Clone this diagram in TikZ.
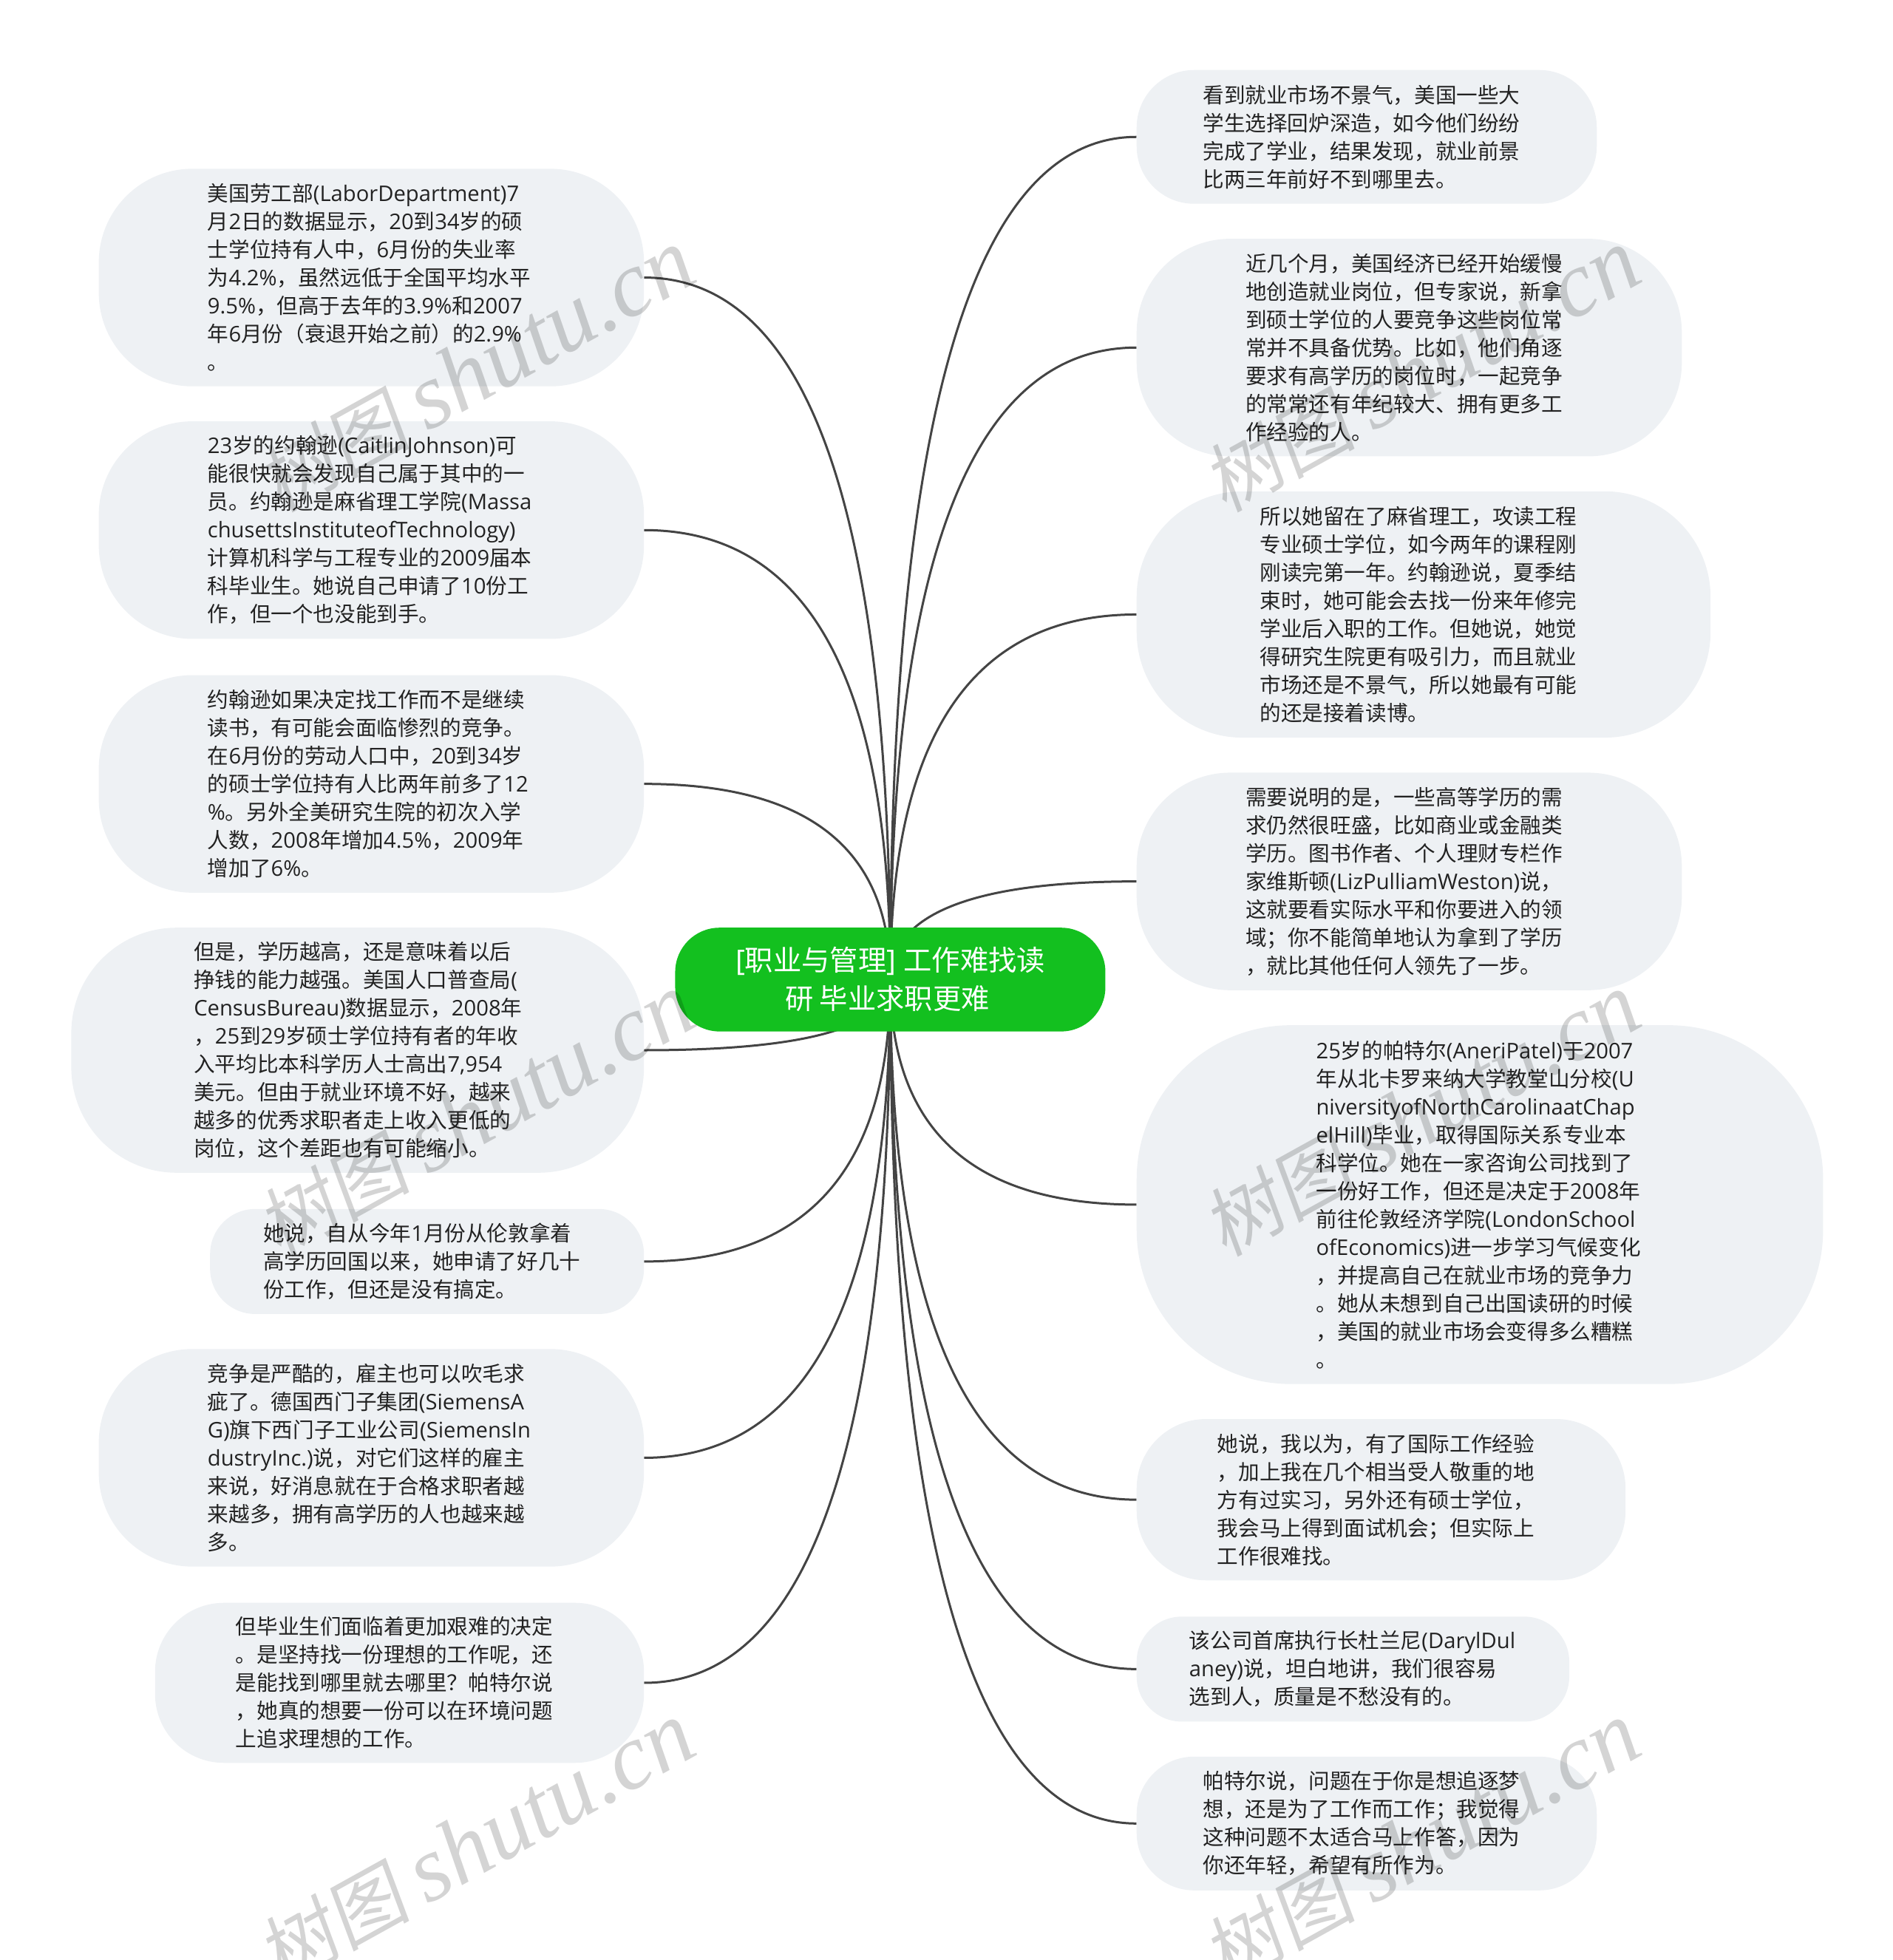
\documentclass[tikz,border=0pt]{standalone}
\usepackage{fontspec}
\usetikzlibrary{calc,backgrounds}
\setmainfont{Open Sans}
\newfontfamily\latf{Open Sans}[Scale=1.02]
\newfontfamily\cjkf{Noto Sans CJK SC}
\newfontfamily\wmital{Liberation Serif}
\newfontfamily\wmcjk{Noto Sans CJK SC}[FakeSlant=0.15]
\newXeTeXintercharclass\cjkclass
\newcount\cjkcnt
\newcommand\setcjkrange[2]{\cjkcnt=#1\relax
  \loop\XeTeXcharclass\cjkcnt=\cjkclass\relax
  \ifnum\cjkcnt<#2\relax\advance\cjkcnt by 1\repeat}
\setcjkrange{"3000}{"303F}
\setcjkrange{"4E00}{"9FFF}
\setcjkrange{"FF00}{"FFEF}
\XeTeXinterchartoks 0 \cjkclass={\cjkf}
\XeTeXinterchartoks \cjkclass 0={\latf}
\XeTeXinterchartoks 4095 \cjkclass={\cjkf}
\XeTeXinterchartoks 4095 0={\latf}
\definecolor{leaffill}{HTML}{EEF1F4}
\definecolor{rootfill}{HTML}{13C01F}
\definecolor{linkcol}{HTML}{444444}
\definecolor{textcol}{HTML}{222222}
\tikzset{
  leafbox/.style={fill=leaffill,text=textcol,inner sep=0pt,text width=443pt,align=left,
    font=\fontsize{28.6}{38}\selectfont},
  rootbox/.style={fill=rootfill,text=white,inner sep=0pt,align=center,
    font=\fontsize{38.3}{52}\selectfont},
  linkline/.style={draw=linkcol,line width=3pt},
  wmark/.style={text=black,opacity=0.17,rotate=29,inner sep=0pt}
}
\newcommand\leaf[6]{%
  \pgfmathsetmacro\boxW{(#4-#2)*1.6916}%
  \pgfmathsetmacro\boxH{(#5-#3)*1.6916}%
  \pgfmathsetmacro\boxR{(#5-#3)*1.6916*0.43}%
  \node[leafbox,minimum width=\boxW pt,minimum height=\boxH pt,rounded corners=\boxR pt]
    (#1) at ({(#2+#4)/2},{(#3+#5)/2}) {#6};}
\newcommand\lnk[2]{%
  \draw[linkline] (root.center) .. controls ($(root.center)!2/3!(root.center |- #1.#2)$)
    and ($(#1.#2)!2/3!(root.center |- #1.#2)$) .. (#1.#2);}
\newcommand\wm[3]{\node[wmark] (#1) at (#2,#3) {\XeTeXinterchartokenstate=0 \fontsize{103}{120}\wmcjk 树图\kern22pt\fontsize{126}{120}\wmital\itshape shutu.cn};}
\begin{document}
\begin{tikzpicture}[x=1.6916pt,y=-1.6916pt]
\useasboundingbox (0,0) rectangle (1513.4,1567.7);
\XeTeXinterchartokenstate=1
\node[rootbox,minimum width=582pt,minimum height=140.4pt,rounded corners=60pt] (root) at (712,783.5)
  {[职业与管理] 工作难找读\\研 毕业求职更难\kern8pt};
\leaf{l1}{79}{135}{515}{309}{美国劳工部(LaborDepartment)7\\月2日的数据显示，20到34岁的硕\\士学位持有人中，6月份的失业率\\为4.2\%，虽然远低于全国平均水平\\9.5\%，但高于去年的3.9\%和2007\\年6月份（衰退开始之前）的2.9\%\\。}
\leaf{l2}{79}{337}{515}{511}{23岁的约翰逊(CaitlinJohnson)可\\能很快就会发现自己属于其中的一\\员。约翰逊是麻省理工学院(Massa\\chusettsInstituteofTechnology)\\计算机科学与工程专业的2009届本\\科毕业生。她说自己申请了10份工\\作，但一个也没能到手。}
\leaf{l3}{79}{540}{515}{714}{约翰逊如果决定找工作而不是继续\\读书，有可能会面临惨烈的竞争。\\在6月份的劳动人口中，20到34岁\\的硕士学位持有人比两年前多了12\\\%。另外全美研究生院的初次入学\\人数，2008年增加4.5\%，2009年\\增加了6\%。}
\leaf{l4}{57}{742}{515}{938}{但是，学历越高，还是意味着以后\\挣钱的能力越强。美国人口普查局(\\CensusBureau)数据显示，2008年\\，25到29岁硕士学位持有者的年收\\入平均比本科学历人士高出7,954\\美元。但由于就业环境不好，越来\\越多的优秀求职者走上收入更低的\\岗位，这个差距也有可能缩小。}
\leaf{l5}{168}{967}{515}{1051}{她说，自从今年1月份从伦敦拿着\\高学历回国以来，她申请了好几十\\份工作，但还是没有搞定。}
\leaf{l6}{79}{1079}{515}{1253}{竞争是严酷的，雇主也可以吹毛求\\疵了。德国西门子集团(SiemensA\\G)旗下西门子工业公司(SiemensIn\\dustryInc.)说，对它们这样的雇主\\来说，好消息就在于合格求职者越\\来越多，拥有高学历的人也越来越\\多。}
\leaf{l7}{124}{1282}{515}{1410}{但毕业生们面临着更加艰难的决定\\。是坚持找一份理想的工作呢，还\\是能找到哪里就去哪里？帕特尔说\\，她真的想要一份可以在环境问题\\上追求理想的工作。}
\leaf{r1}{909}{56}{1277}{163}{看到就业市场不景气，美国一些大\\学生选择回炉深造，如今他们纷纷\\完成了学业，结果发现，就业前景\\比两三年前好不到哪里去。}
\leaf{r2}{909}{191}{1345}{365}{近几个月，美国经济已经开始缓慢\\地创造就业岗位，但专家说，新拿\\到硕士学位的人要竞争这些岗位常\\常并不具备优势。比如，他们角逐\\要求有高学历的岗位时，一起竞争\\的常常还有年纪较大、拥有更多工\\作经验的人。}
\leaf{r3}{909}{393}{1368}{590}{所以她留在了麻省理工，攻读工程\\专业硕士学位，如今两年的课程刚\\刚读完第一年。约翰逊说，夏季结\\束时，她可能会去找一份来年修完\\学业后入职的工作。但她说，她觉\\得研究生院更有吸引力，而且就业\\市场还是不景气，所以她最有可能\\的还是接着读博。}
\leaf{r4}{909}{618}{1345}{792}{需要说明的是，一些高等学历的需\\求仍然很旺盛，比如商业或金融类\\学历。图书作者、个人理财专栏作\\家维斯顿(LizPulliamWeston)说，\\这就要看实际水平和你要进入的领\\域；你不能简单地认为拿到了学历\\，就比其他任何人领先了一步。}
\leaf{r5}{909}{820}{1458}{1107}{25岁的帕特尔(AneriPatel)于2007\\年从北卡罗来纳大学教堂山分校(U\\niversityofNorthCarolinaatChap\\elHill)毕业，取得国际关系专业本\\科学位。她在一家咨询公司找到了\\一份好工作，但还是决定于2008年\\前往伦敦经济学院(LondonSchool\\ofEconomics)进一步学习气候变化\\，并提高自己在就业市场的竞争力\\。她从未想到自己出国读研的时候\\，美国的就业市场会变得多么糟糕\\。}
\leaf{r6}{909}{1135}{1300}{1264}{她说，我以为，有了国际工作经验\\，加上我在几个相当受人敬重的地\\方有过实习，另外还有硕士学位，\\我会马上得到面试机会；但实际上\\工作很难找。}
\leaf{r7}{909}{1293}{1255}{1377}{该公司首席执行长杜兰尼(DarylDul\\aney)说，坦白地讲，我们很容易\\选到人，质量是不愁没有的。}
\leaf{r8}{909}{1405}{1277}{1512}{帕特尔说，问题在于你是想追逐梦\\想，还是为了工作而工作；我觉得\\这种问题不太适合马上作答，因为\\你还年轻，希望有所作为。}
\begin{scope}[on background layer]
\foreach \n in {l1,l2,l3,l4,l5,l6,l7}{\lnk{\n}{east}}
\foreach \n in {r1,r2,r3,r4,r5,r6,r7,r8}{\lnk{\n}{west}}
\end{scope}
\wm{w1}{381}{297}
\wm{w2}{381}{892}
\wm{w3}{381}{1475}
\wm{w4}{1137}{297}
\wm{w5}{1137}{892}
\wm{w6}{1137}{1475}
\end{tikzpicture}
\end{document}
